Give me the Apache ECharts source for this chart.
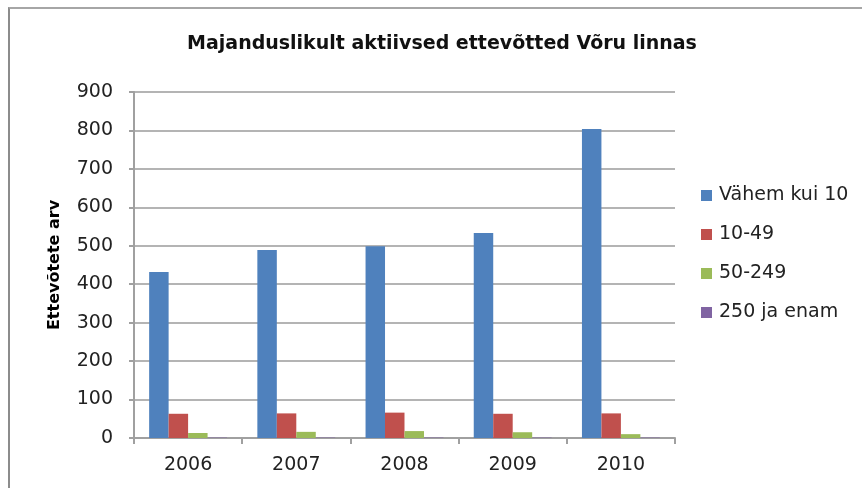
<!DOCTYPE html>
<html>
<head>
<meta charset="utf-8">
<script src="https://cdn.jsdelivr.net/npm/echarts@6/dist/echarts.min.js"></script>
<style>
  html, body { margin: 0; padding: 0; background: #fff; }
  #frame { position: absolute; left: 8px; top: 7px; width: 854px; height: 481px;
           border-left: 2px solid #8c8c8c; border-top: 2px solid #a6a6a6; box-sizing: border-box; }
  #chart { position: absolute; left: 0; top: 0; width: 862px; height: 488px; }
</style>
</head>
<body>
<div id="frame"></div>
<div id="chart"></div>
<script>
// data
const years = ['2006', '2007', '2008', '2009', '2010']
const under10 = [432, 489, 499, 533, 804]
const size10to49 = [63, 64, 66, 63, 64]
const size50to249 = [13, 16, 18, 15, 10]
const size250plus = [1, 1, 1, 1, 1]
const seriesNames = ['Vähem kui 10', '10-49', '50-249', '250 ja enam']
const colors = ['#4F81BD', '#C0504D', '#9BBB59', '#8064A2']

const chart = echarts.init(document.getElementById('chart'))
const font = 'DejaVu Sans, sans-serif'

const makeBar = (name, data, color) => ({
  name,
  type: 'bar',
  data,
  barGap: '0%',
  barCategoryGap: '28%',
  itemStyle: { color },
})

chart.setOption({
  animation: false,
  title: {
    text: 'Majanduslikult aktiivsed ettevõtted Võru linnas',
    left: 437,
    top: 30,
    textAlign: 'center',
    textStyle: { fontFamily: font, fontSize: 19, fontWeight: 'bold', color: '#111' },
  },
  legend: {
    orient: 'vertical',
    left: 696,
    top: 181,
    itemWidth: 11,
    itemHeight: 11,
    itemGap: 20,
    icon: 'rect',
    data: seriesNames,
    textStyle: { fontFamily: font, fontSize: 19, color: '#222', padding: [0, 0, 0, 2] },
  },
  grid: { left: 134, right: 187, top: 92, bottom: 50, containLabel: false },
  xAxis: {
    type: 'category',
    data: years,
    axisLine: { lineStyle: { color: '#a0a0a0', width: 2 } },
    axisTick: { show: true, length: 6, lineStyle: { color: '#a0a0a0', width: 2 } },
    axisLabel: { fontFamily: font, fontSize: 19, color: '#222', margin: 18 },
  },
  yAxis: {
    type: 'value',
    min: 0,
    max: 900,
    interval: 100,
    name: 'Ettevõtete arv',
    nameLocation: 'middle',
    nameGap: 71,
    nameTextStyle: { fontFamily: font, fontSize: 16, fontWeight: 'bold', color: '#000' },
    axisLine: { show: true, lineStyle: { color: '#a0a0a0', width: 2 } },
    axisTick: { show: true, length: 5, lineStyle: { color: '#a0a0a0', width: 2 } },
    axisLabel: { fontFamily: font, fontSize: 19, color: '#222', margin: 21 },
    splitLine: { lineStyle: { color: '#b4b4b4', width: 2 } },
  },
  series: [
    makeBar(seriesNames[0], under10, colors[0]),
    makeBar(seriesNames[1], size10to49, colors[1]),
    makeBar(seriesNames[2], size50to249, colors[2]),
    makeBar(seriesNames[3], size250plus, colors[3]),
  ],
})
</script>
</body>
</html>
